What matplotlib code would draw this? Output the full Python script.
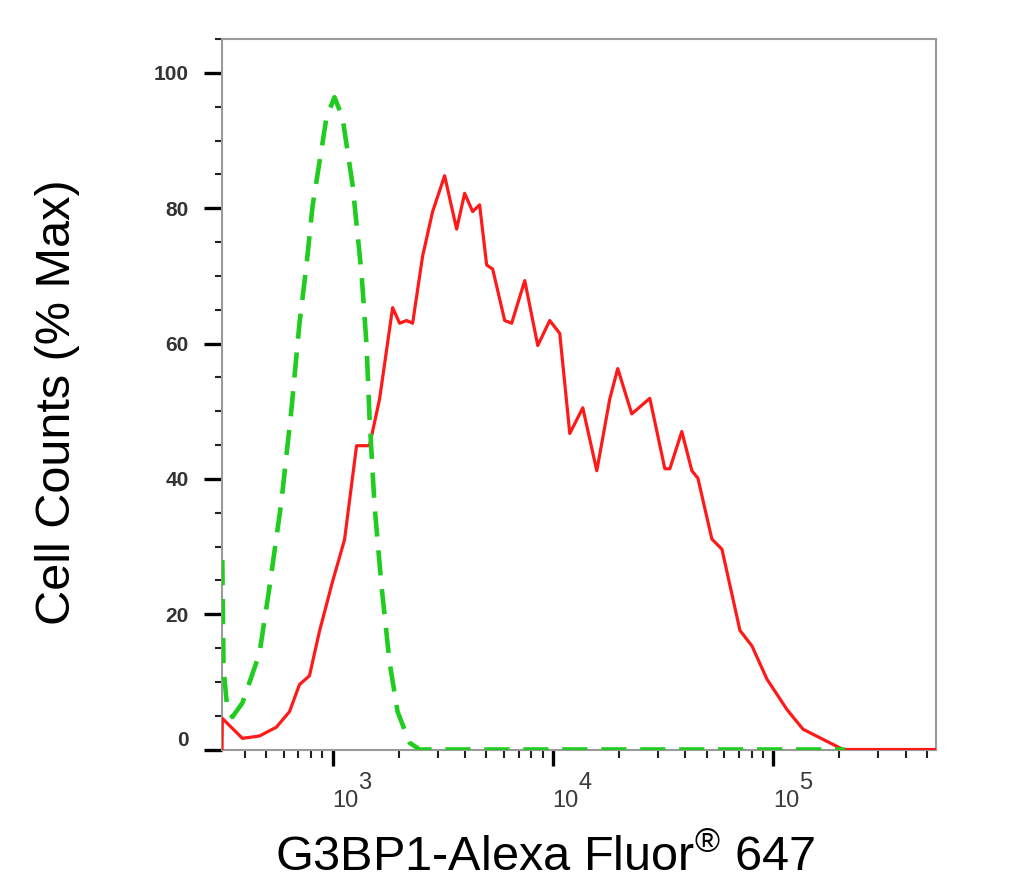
import matplotlib
matplotlib.use("Agg")
import matplotlib.pyplot as plt
from matplotlib.ticker import FixedLocator, LogLocator, NullFormatter

plt.rcParams['font.family'] = ['Liberation Sans', 'DejaVu Sans']
plt.rcParams['mathtext.fontset'] = 'custom'
plt.rcParams['mathtext.rm'] = 'Liberation Sans'
plt.rcParams['mathtext.it'] = 'Liberation Sans:italic'
plt.rcParams['mathtext.bf'] = 'Liberation Sans:bold'

# G3BP1 stained sample (red, solid)
red_x = [315, 316, 390, 466, 556, 638, 708, 786, 873, 1000, 1134, 1286, 1472, 1636,
         1875, 2017, 2168, 2311, 2565, 2848, 3229, 3661, 3981, 4329, 4655, 5012,
         5337, 6051, 6510, 7464, 8551, 9689, 10760, 11950, 13690, 15850, 18150,
         19730, 22850, 27590, 32280, 34030, 38550, 42830, 45610, 52800, 58650,
         70800, 80300, 93900, 115800, 136900, 168700, 208000, 551000]
red_y = [0, 4.6, 1.65, 2.0, 3.3, 5.6, 9.6, 10.9, 17.5, 24.8, 31.0, 44.9, 44.9, 51.8,
         65.3, 63.0, 63.4, 63.0, 72.9, 79.5, 84.8, 76.9, 82.2, 79.5, 80.5, 71.6,
         71.0, 63.4, 63.0, 69.3, 59.7, 63.4, 61.5, 46.7, 50.5, 41.2, 51.8,
         56.3, 49.6, 51.9, 41.5, 41.5, 47.0, 41.2, 40.1, 31.1, 29.6,
         17.6, 15.3, 10.4, 5.9, 3.0, 1.5, 0, 0]

# isotype / unstained control (green, dashed)
green_x = [316, 320, 333, 351, 390, 466, 518, 586, 652, 708, 762, 811, 939, 1021,
           1110, 1233, 1355, 1428, 1472, 1552, 1670, 1816, 1974, 2239, 2485, 212000]
green_y = [28.0, 12.0, 6.0, 4.8, 6.9, 14.2, 24.1, 36.6, 50.5, 63.0, 71.6, 80.2, 93.4,
           96.4, 93.4, 83.5, 70.3, 59.7, 49.2, 36.0, 24.1, 12.9, 5.6, 1.0, 0, 0]

y_ticks = [0, 20, 40, 60, 80, 100]
y_minor = [5, 10, 15, 25, 30, 35, 45, 50, 55, 65, 70, 75, 85, 90, 95, 105]
x_ticks = [1e3, 1e4, 1e5]
x_exps = ['3', '4', '5']

fig = plt.figure(figsize=(10.25, 8.89), dpi=100)
ax = fig.add_axes([0.2166, 0.1569, 0.6966, 0.7992])

ax.plot(red_x, red_y, color='#ff1a1a', lw=2.3, zorder=3, solid_joinstyle='round')
ax.plot(green_x, green_y, color='#1fcc1f', lw=3.3, dashes=(5.5, 3), zorder=4)

ax.set_xscale('log')
ax.set_xlim(315, 5.5e5)
ax.set_ylim(0, 105)

ax.yaxis.set_major_locator(FixedLocator(y_ticks))
ax.yaxis.set_minor_locator(FixedLocator(y_minor))
ax.set_yticklabels([str(v) for v in y_ticks])
ax.set_xticks(x_ticks)
ax.set_xticklabels(['10'] * len(x_ticks))
ax.xaxis.set_minor_locator(LogLocator(base=10, subs=[2, 3, 4, 5, 6, 7, 8, 9], numticks=20))
ax.xaxis.set_minor_formatter(NullFormatter())

ax.tick_params(axis='y', which='major', direction='out', length=13, width=2.4,
               color='black', labelsize=15, labelcolor='#333333', pad=11)
ax.tick_params(axis='y', which='minor', direction='out', length=5, width=1.5, color='#222222')
ax.tick_params(axis='x', which='major', direction='out', length=11.5, width=2.4,
               color='black', labelsize=17, labelcolor='#3a3a3a', pad=18)
ax.tick_params(axis='x', which='minor', direction='out', length=6, width=1.5, color='#222222')

for lab in ax.get_xticklabels():
    lab.set_ha('left')
for lab in ax.get_yticklabels():
    lab.set_fontweight('bold')
ax.get_yticklabels()[0].set_va('bottom')

# exponents drawn full size, raised beside the "10"
for xt, e in zip(x_ticks, x_exps):
    ax.annotate(e, xy=(xt, 0), xycoords=('data', 'axes fraction'),
                xytext=(26, -22), textcoords='offset pixels',
                ha='left', va='top', fontsize=17, color='#3a3a3a')

for sp in ax.spines.values():
    sp.set_color('#9a9a9a')
    sp.set_linewidth(1.5)

ax.set_ylabel('Cell Counts (% Max)', fontsize=35)
ax.yaxis.set_label_coords(-0.199, 0.489)
ax.set_xlabel('G3BP1-Alexa Fluor$^{\\mathrm{®}}$ 647', fontsize=35, va='center')
ax.xaxis.set_label_coords(0.452, -0.1527)

fig.savefig('out.png', dpi=100)
